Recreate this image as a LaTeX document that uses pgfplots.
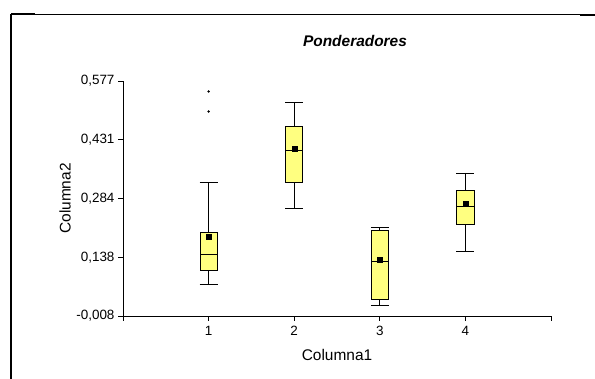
\documentclass[border=0pt]{standalone}
\usepackage{fontspec}
\setmainfont{Liberation Sans}
\usepackage{pgfplots}
\pgfplotsset{compat=1.18}
\definecolor{boxyellow}{RGB}{255,255,128}
\begin{document}
\begin{tikzpicture}
\path[use as bounding box] (0bp,0bp) rectangle (595bp,379bp);
\begin{axis}[
  at={(123bp,63bp)}, anchor=south west,
  scale only axis, width=428bp, height=235bp,
  xmin=0, xmax=5, ymin=-0.008, ymax=0.577,
  axis x line=bottom, axis y line=left,
  axis line style={-, line width=0.8pt},
  xtick={0,1,2,3,4,5}, xticklabels={,1,2,3,4,},
  ytick={-0.008,0.138,0.284,0.431,0.577},
  yticklabels={{-0,008},{0,138},{0,284},{0,431},{0,577}},
  tick align=outside, major tick length=5bp,
  tick style={black, line width=0.8pt},
  ticklabel style={font=\fontsize{13.5}{15}\selectfont},
  xticklabel style={yshift=-2bp},
  xlabel={Columna1}, ylabel={Columna2},
  label style={font=\fontsize{15.5}{17}\selectfont},
  xlabel style={at={(axis description cs:0.5,-0.166)}, anchor=center},
  ylabel style={at={(axis description cs:-0.1355,0.5)}, anchor=center},
  title={Ponderadores},
  title style={at={(axis description cs:0.542,1.145)}, anchor=center, font=\fontsize{15.5}{17}\selectfont\bfseries\itshape},
  unbounded coords=jump,
  clip=false,
]
% whiskers and caps
\addplot[black, line width=0.7pt] coordinates {(0.895,0.324)(1.105,0.324)(nan,nan)(1,0.324)(1,0.201)(nan,nan)(1,0.106)(1,0.072)(nan,nan)(0.895,0.072)(1.105,0.072)};
\addplot[black, line width=0.7pt] coordinates {(1.895,0.523)(2.105,0.523)(nan,nan)(2,0.523)(2,0.464)(nan,nan)(2,0.325)(2,0.261)(nan,nan)(1.895,0.261)(2.105,0.261)};
\addplot[black, line width=0.7pt] coordinates {(2.895,0.212)(3.105,0.212)(nan,nan)(3,0.212)(3,0.205)(nan,nan)(3,0.034)(3,0.019)(nan,nan)(2.895,0.019)(3.105,0.019)};
\addplot[black, line width=0.7pt] coordinates {(3.895,0.348)(4.105,0.348)(nan,nan)(4,0.348)(4,0.304)(nan,nan)(4,0.219)(4,0.152)(nan,nan)(3.895,0.152)(4.105,0.152)};
% boxes (lower quartile to upper quartile)
\addplot[draw=black, fill=boxyellow, line width=0.7pt] coordinates {(0.9,0.106)(1.1,0.106)(1.1,0.201)(0.9,0.201)} -- cycle;
\addplot[draw=black, fill=boxyellow, line width=0.7pt] coordinates {(1.9,0.325)(2.1,0.325)(2.1,0.464)(1.9,0.464)} -- cycle;
\addplot[draw=black, fill=boxyellow, line width=0.7pt] coordinates {(2.9,0.034)(3.1,0.034)(3.1,0.205)(2.9,0.205)} -- cycle;
\addplot[draw=black, fill=boxyellow, line width=0.7pt] coordinates {(3.9,0.219)(4.1,0.219)(4.1,0.304)(3.9,0.304)} -- cycle;
% medians
\addplot[black, line width=0.7pt] coordinates {(0.9,0.146)(1.1,0.146)(nan,nan)(1.9,0.404)(2.1,0.404)(nan,nan)(2.9,0.129)(3.1,0.129)(nan,nan)(3.9,0.266)(4.1,0.266)};
% means
\addplot[only marks, mark=square*, mark size=2.5bp, black] coordinates {(1,0.189) (2,0.408) (3,0.132) (4,0.272)};
% outliers
\addplot[only marks, mark=*, mark size=1bp, black] coordinates {(1,0.551) (1,0.501)};
\end{axis}
\draw[line width=0.8pt] (11bp,365bp) -- (580bp,365bp);
\draw[line width=1.5pt] (11bp,365bp) -- (35bp,365bp);
\draw[line width=1.5pt] (580bp,364bp) -- (595bp,364bp);
\draw[line width=1.2pt] (11bp,365bp) -- (11bp,0bp);
\end{tikzpicture}
\end{document}
